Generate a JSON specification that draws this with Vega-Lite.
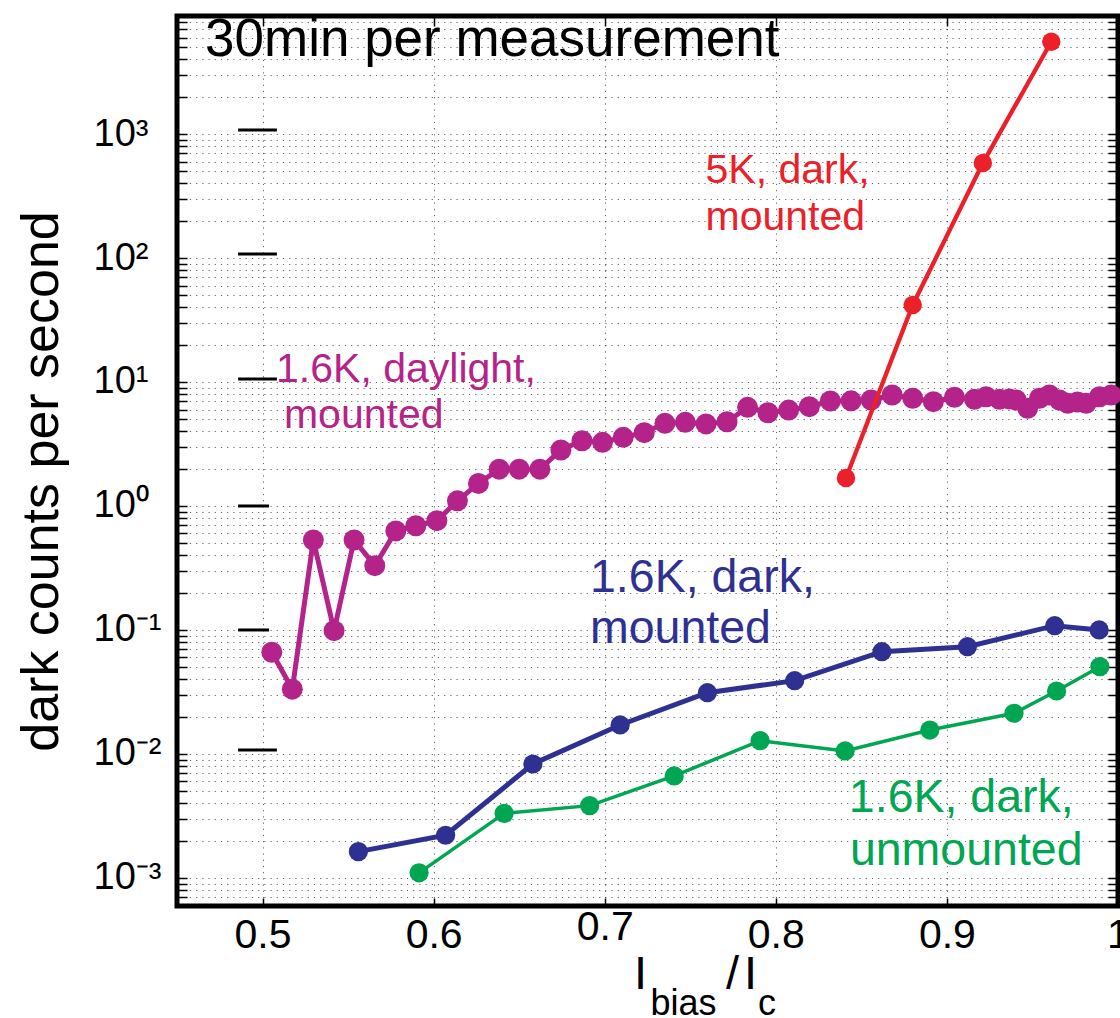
{
  "$schema": "https://vega.github.io/schema/vega-lite/v6.json",
  "width": 941,
  "height": 890,
  "autosize": {"type": "none"},
  "padding": {"left": 177, "top": 16, "right": 2, "bottom": 112},
  "background": "white",
  "config": {
    "view": {"stroke": "black", "strokeWidth": 5},
    "font": "Liberation Sans"
  },
  "datasets": {
    "series": [
      {"series": "daylight", "x": 0.5054, "y": 0.0661},
      {"series": "daylight", "x": 0.5174, "y": 0.0333},
      {"series": "daylight", "x": 0.5297, "y": 0.532},
      {"series": "daylight", "x": 0.5418, "y": 0.0987},
      {"series": "daylight", "x": 0.5535, "y": 0.532},
      {"series": "daylight", "x": 0.5656, "y": 0.330},
      {"series": "daylight", "x": 0.5779, "y": 0.629},
      {"series": "daylight", "x": 0.5896, "y": 0.693},
      {"series": "daylight", "x": 0.6019, "y": 0.761},
      {"series": "daylight", "x": 0.6139, "y": 1.10},
      {"series": "daylight", "x": 0.6262, "y": 1.52},
      {"series": "daylight", "x": 0.6383, "y": 1.98},
      {"series": "daylight", "x": 0.6500, "y": 1.98},
      {"series": "daylight", "x": 0.6621, "y": 1.98},
      {"series": "daylight", "x": 0.6744, "y": 2.83},
      {"series": "daylight", "x": 0.6867, "y": 3.36},
      {"series": "daylight", "x": 0.6987, "y": 3.26},
      {"series": "daylight", "x": 0.7108, "y": 3.58},
      {"series": "daylight", "x": 0.7231, "y": 3.90},
      {"series": "daylight", "x": 0.7352, "y": 4.64},
      {"series": "daylight", "x": 0.7471, "y": 4.73},
      {"series": "daylight", "x": 0.7592, "y": 4.59},
      {"series": "daylight", "x": 0.7715, "y": 4.78},
      {"series": "daylight", "x": 0.7835, "y": 6.25},
      {"series": "daylight", "x": 0.7954, "y": 5.65},
      {"series": "daylight", "x": 0.8075, "y": 5.94},
      {"series": "daylight", "x": 0.8196, "y": 6.32},
      {"series": "daylight", "x": 0.8319, "y": 7.03},
      {"series": "daylight", "x": 0.8440, "y": 7.05},
      {"series": "daylight", "x": 0.8557, "y": 7.16},
      {"series": "daylight", "x": 0.8680, "y": 7.85},
      {"series": "daylight", "x": 0.8800, "y": 7.39},
      {"series": "daylight", "x": 0.8921, "y": 6.94},
      {"series": "daylight", "x": 0.9044, "y": 7.53},
      {"series": "daylight", "x": 0.9161, "y": 7.25},
      {"series": "daylight", "x": 0.9229, "y": 7.6},
      {"series": "daylight", "x": 0.9307, "y": 7.25},
      {"series": "daylight", "x": 0.9365, "y": 7.3},
      {"series": "daylight", "x": 0.9405, "y": 7.16},
      {"series": "daylight", "x": 0.9472, "y": 6.14},
      {"series": "daylight", "x": 0.9541, "y": 7.39},
      {"series": "daylight", "x": 0.9599, "y": 7.85},
      {"series": "daylight", "x": 0.9658, "y": 7.16},
      {"series": "daylight", "x": 0.9706, "y": 6.73},
      {"series": "daylight", "x": 0.9763, "y": 6.9},
      {"series": "daylight", "x": 0.9814, "y": 6.73},
      {"series": "daylight", "x": 0.9892, "y": 7.6},
      {"series": "daylight", "x": 0.9960, "y": 7.85},
      {"series": "5K", "x": 0.841, "y": 1.68},
      {"series": "5K", "x": 0.880, "y": 41.8},
      {"series": "5K", "x": 0.921, "y": 583},
      {"series": "5K", "x": 0.961, "y": 5550},
      {"series": "dark", "x": 0.556, "y": 0.00163},
      {"series": "dark", "x": 0.607, "y": 0.00221},
      {"series": "dark", "x": 0.658, "y": 0.0083},
      {"series": "dark", "x": 0.709, "y": 0.01714},
      {"series": "dark", "x": 0.760, "y": 0.0312},
      {"series": "dark", "x": 0.811, "y": 0.039},
      {"series": "dark", "x": 0.862, "y": 0.0668},
      {"series": "dark", "x": 0.912, "y": 0.0733},
      {"series": "dark", "x": 0.963, "y": 0.1083},
      {"series": "dark", "x": 0.989, "y": 0.1},
      {"series": "unmounted", "x": 0.5915, "y": 0.0011},
      {"series": "unmounted", "x": 0.6412, "y": 0.00332},
      {"series": "unmounted", "x": 0.6912, "y": 0.00383},
      {"series": "unmounted", "x": 0.7406, "y": 0.00665},
      {"series": "unmounted", "x": 0.7908, "y": 0.0128},
      {"series": "unmounted", "x": 0.8405, "y": 0.01057},
      {"series": "unmounted", "x": 0.8900, "y": 0.0156},
      {"series": "unmounted", "x": 0.9392, "y": 0.0213},
      {"series": "unmounted", "x": 0.9641, "y": 0.0322},
      {"series": "unmounted", "x": 0.9894, "y": 0.0506}
    ],
    "labels": [
      {"series": "5K", "text": "5K, dark,", "x": 0.7589, "y": 402.5},
      {"series": "5K", "text": "mounted", "x": 0.7589, "y": 168},
      {"series": "daylight", "text": "1.6K, daylight,", "x": 0.5079, "y": 10.0},
      {"series": "daylight", "text": "mounted", "x": 0.5125, "y": 4.26},
      {"series": "dark", "text": "1.6K, dark,", "x": 0.6914, "y": 0.2023},
      {"series": "dark", "text": "mounted", "x": 0.6914, "y": 0.0785},
      {"series": "unmounted", "text": "1.6K, dark,", "x": 0.8427, "y": 0.0034},
      {"series": "unmounted", "text": "unmounted", "x": 0.8433, "y": 0.00127}
    ],
    "note": [
      {"text": "30min per measurement", "x": 0.4664, "y": 4256}
    ],
    "xtitleBig": [
      {"text": "I", "x": 0.7209, "y": 0.000127},
      {"text": "/", "x": 0.7747, "y": 0.000127},
      {"text": "I", "x": 0.7852, "y": 0.000127}
    ],
    "xtitleSub": [
      {"text": "bias", "x": 0.7460, "y": 0.0000785},
      {"text": "c", "x": 0.7948, "y": 0.0000785}
    ],
    "dashes": [
      {"x": 0.4857, "x2": 0.5084, "y": 1077},
      {"x": 0.4857, "x2": 0.5084, "y": 107.7},
      {"x": 0.4857, "x2": 0.5084, "y": 10.57},
      {"x": 0.4857, "x2": 0.5038, "y": 1},
      {"x": 0.4857, "x2": 0.5038, "y": 0.1},
      {"x": 0.4857, "x2": 0.5084, "y": 0.01077}
    ]
  },
  "layer": [
    {
      "encoding": {
        "x": {
          "field": "x",
          "type": "quantitative",
          "scale": {"domain": [0.45, 1.0], "nice": false, "zero": false},
          "axis": {
            "values": [0.5, 0.6, 0.7, 0.8, 0.9, 1],
            "format": "~g",
            "grid": true,
            "gridColor": "black",
            "gridDash": [1.2, 5],
            "gridOpacity": 0.6,
            "gridWidth": 1,
            "domain": false,
            "ticks": true,
            "tickSize": -8,
            "tickColor": "black",
            "tickWidth": 1.5,
            "labelFont": "Liberation Sans",
            "labelFontSize": 41,
            "labelColor": "black",
            "labelPadding": {"condition": {"test": "abs(datum.value - 0.7) < 0.001", "value": 9}, "value": 17},
            "labelFlush": false,
            "labelOverlap": false,
            "labelBound": false,
            "title": null
          }
        },
        "y": {
          "field": "y",
          "type": "quantitative",
          "scale": {"type": "log", "domain": [0.000594, 8950], "nice": false},
          "axis": {
            "values": [0.0006, 0.0007, 0.0008, 0.0009, 0.001, 0.002, 0.003, 0.004, 0.005, 0.006, 0.007, 0.008, 0.009, 0.01, 0.02, 0.03, 0.04, 0.05, 0.06, 0.07, 0.08, 0.09, 0.1, 0.2, 0.3, 0.4, 0.5, 0.6, 0.7, 0.8, 0.9, 1, 2, 3, 4, 5, 6, 7, 8, 9, 10, 20, 30, 40, 50, 60, 70, 80, 90, 100, 200, 300, 400, 500, 600, 700, 800, 900, 1000, 2000, 3000, 4000, 5000, 6000, 7000, 8000],
            "labelExpr": "abs(log(datum.value)/LN10 - round(log(datum.value)/LN10)) > 0.001 ? '' : '10' + ['⁻³','⁻²','⁻¹','⁰','¹','²','³'][round(log(datum.value)/LN10) + 3]",
            "grid": true,
            "gridColor": "black",
            "gridDash": [1.2, 5],
            "gridOpacity": 0.6,
            "gridWidth": 1,
            "domain": false,
            "ticks": true,
            "tickSize": -10,
            "tickColor": "black",
            "tickWidth": 1.5,
            "labelFont": "Liberation Sans",
            "labelFontSize": 38,
            "labelColor": "black",
            "labelAlign": "left",
            "labelBaseline": "middle",
            "labelPadding": 94,
            "labelFlush": false,
            "labelOverlap": false,
            "labelBound": false,
            "title": "dark counts per second",
            "titleFont": "Liberation Sans",
            "titleFontSize": 52,
            "titleFontWeight": "normal",
            "titleColor": "black",
            "titleAngle": 270,
            "titleAlign": "center",
            "titleBaseline": "alphabetic",
            "titleX": -120,
            "titleY": 465
          }
        },
        "color": {
          "field": "series",
          "type": "nominal",
          "scale": {"domain": ["daylight", "5K", "dark", "unmounted"], "range": ["#B42389", "#EC2028", "#2E3192", "#00A651"]},
          "legend": null
        }
      },
      "layer": [
        {"data": {"name": "series"}, "transform": [{"filter": "datum.series == 'daylight'"}], "mark": {"type": "line", "strokeWidth": 5}},
        {"data": {"name": "series"}, "transform": [{"filter": "datum.series == 'daylight'"}], "mark": {"type": "circle", "size": 440, "opacity": 1}},
        {"data": {"name": "series"}, "transform": [{"filter": "datum.series == 'dark'"}], "mark": {"type": "line", "strokeWidth": 5}},
        {"data": {"name": "series"}, "transform": [{"filter": "datum.series == 'dark'"}], "mark": {"type": "circle", "size": 370, "opacity": 1}},
        {"data": {"name": "series"}, "transform": [{"filter": "datum.series == 'unmounted'"}], "mark": {"type": "line", "strokeWidth": 3.5}},
        {"data": {"name": "series"}, "transform": [{"filter": "datum.series == 'unmounted'"}], "mark": {"type": "circle", "size": 370, "opacity": 1}},
        {"data": {"name": "series"}, "transform": [{"filter": "datum.series == '5K'"}], "mark": {"type": "line", "strokeWidth": 4.3}},
        {"data": {"name": "series"}, "transform": [{"filter": "datum.series == '5K'"}], "mark": {"type": "circle", "size": 340, "opacity": 1}},
        {"data": {"name": "labels"}, "transform": [{"filter": "datum.series == 'daylight' || datum.series == '5K'"}], "mark": {"type": "text", "fontSize": 41, "align": "left", "baseline": "alphabetic", "font": "Liberation Sans"}, "encoding": {"text": {"field": "text"}}},
        {"data": {"name": "labels"}, "transform": [{"filter": "datum.series == 'dark' || datum.series == 'unmounted'"}], "mark": {"type": "text", "fontSize": 46.5, "align": "left", "baseline": "alphabetic", "font": "Liberation Sans"}, "encoding": {"text": {"field": "text"}}},
        {"data": {"name": "note"}, "mark": {"type": "text", "fontSize": 53, "align": "left", "baseline": "alphabetic", "font": "Liberation Sans"}, "encoding": {"text": {"field": "text"}, "color": {"value": "black"}}},
        {"data": {"name": "xtitleBig"}, "mark": {"type": "text", "fontSize": 47, "align": "center", "baseline": "alphabetic", "font": "Liberation Sans"}, "encoding": {"text": {"field": "text"}, "color": {"value": "black"}}},
        {"data": {"name": "xtitleSub"}, "mark": {"type": "text", "fontSize": 36, "align": "center", "baseline": "alphabetic", "font": "Liberation Sans"}, "encoding": {"text": {"field": "text"}, "color": {"value": "black"}}}
      ]
    },
    {
      "data": {"name": "dashes"},
      "mark": {"type": "rule", "color": "black", "strokeWidth": 3},
      "encoding": {
        "x": {
          "field": "x",
          "type": "quantitative",
          "scale": {"domain": [0.45, 1.0], "nice": false, "zero": false},
          "axis": {"orient": "top", "values": [0.5, 0.6, 0.7, 0.8, 0.9, 1], "labels": false, "grid": false, "domain": false, "ticks": true, "tickSize": -10, "tickColor": "black", "tickWidth": 1.5, "title": null}
        },
        "x2": {"field": "x2"},
        "y": {
          "field": "y",
          "type": "quantitative",
          "scale": {"type": "log", "domain": [0.000594, 8950], "nice": false},
          "axis": {"orient": "right", "values": [0.0006, 0.0007, 0.0008, 0.0009, 0.001, 0.002, 0.003, 0.004, 0.005, 0.006, 0.007, 0.008, 0.009, 0.01, 0.02, 0.03, 0.04, 0.05, 0.06, 0.07, 0.08, 0.09, 0.1, 0.2, 0.3, 0.4, 0.5, 0.6, 0.7, 0.8, 0.9, 1, 2, 3, 4, 5, 6, 7, 8, 9, 10, 20, 30, 40, 50, 60, 70, 80, 90, 100, 200, 300, 400, 500, 600, 700, 800, 900, 1000, 2000, 3000, 4000, 5000, 6000, 7000, 8000], "labels": false, "grid": false, "domain": false, "ticks": true, "tickSize": -10, "tickColor": "black", "tickWidth": 1.5, "title": null}
        }
      }
    }
  ],
  "resolve": {"axis": {"x": "independent", "y": "independent"}}
}
